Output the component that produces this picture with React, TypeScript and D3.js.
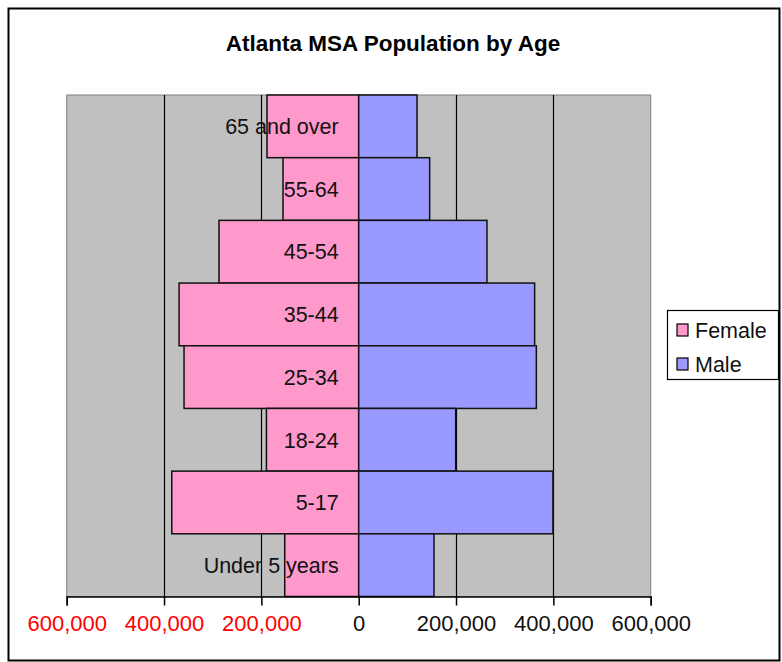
import React, { useEffect, useRef } from "react";
import * as d3 from "d3";

// age groups, top of the pyramid first
const ageGroups = ["65 and over", "55-64", "45-54", "35-44", "25-34", "18-24", "5-17", "Under 5 years"];
const female = [188400, 155500, 287000, 369100, 358900, 189600, 384100, 152000];
const male = [119800, 145800, 263600, 361500, 365000, 199300, 399100, 154700];
const tickValues = [-600000, -400000, -200000, 0, 200000, 400000, 600000];
const gridValues = [-400000, -200000, 200000, 400000];
const seriesNames = ["Female", "Male"];
const seriesColors = ["#FF99CC", "#9999FF"];

const W = 782, H = 662;
const margin = { left: 66.7, right: 131.3, top: 95, bottom: 65.5 };

function Pyramid() {
  const ref = useRef<SVGSVGElement>(null);

  useEffect(() => {
    const svg = d3.select(ref.current);
    svg.selectAll("*").remove();
    const font = "'Liberation Sans', Arial, sans-serif";

    // outer chart border
    svg.append("rect").attr("x", 8.5).attr("y", 8.5).attr("width", 771).attr("height", 652)
      .attr("fill", "white").attr("stroke", "black").attr("stroke-width", 2);

    svg.append("text").attr("x", 393).attr("y", 51).attr("text-anchor", "middle")
      .style("font-family", font).style("font-weight", "bold").style("font-size", "22.5px")
      .text("Atlanta MSA Population by Age");

    const x = d3.scaleLinear().domain([-600000, 600000]).range([margin.left, W - margin.right]);
    const y = d3.scaleBand().domain(ageGroups).range([margin.top, H - margin.bottom]).padding(0);

    const g = svg.append("g");
    g.append("rect").attr("x", x(-600000)).attr("y", margin.top)
      .attr("width", x(600000) - x(-600000)).attr("height", H - margin.bottom - margin.top)
      .attr("fill", "#C0C0C0").attr("stroke", "#808080").attr("stroke-width", 1);

    g.selectAll(".grid").data(gridValues).join("line").attr("class", "grid")
      .attr("x1", d => Math.round(x(d)) + 0.5).attr("x2", d => Math.round(x(d)) + 0.5)
      .attr("y1", margin.top).attr("y2", H - margin.bottom)
      .attr("stroke", "black").attr("stroke-width", 1.2);

    // female bars go left, male bars go right
    g.selectAll(".fbar").data(ageGroups).join("rect").attr("class", "fbar")
      .attr("x", (d, i) => x(-female[i])).attr("y", d => y(d)!)
      .attr("width", (d, i) => x(0) - x(-female[i])).attr("height", y.bandwidth())
      .attr("fill", seriesColors[0]).attr("stroke", "#111").attr("stroke-width", 1.5);
    g.selectAll(".mbar").data(ageGroups).join("rect").attr("class", "mbar")
      .attr("x", x(0)).attr("y", d => y(d)!)
      .attr("width", (d, i) => x(male[i]) - x(0)).attr("height", y.bandwidth())
      .attr("fill", seriesColors[1]).attr("stroke", "#111").attr("stroke-width", 1.5);

    g.selectAll(".cat").data(ageGroups).join("text").attr("class", "cat")
      .attr("x", x(0) - 20).attr("y", d => y(d)! + y.bandwidth() / 2).attr("dy", "0.36em")
      .attr("text-anchor", "end").style("font-family", font).style("font-size", "21.5px")
      .attr("fill", "#111").text(d => d);

    const axis = g.append("g").attr("transform", `translate(0,${H - margin.bottom})`)
      .call(d3.axisBottom(x).tickValues(tickValues).tickSize(9).tickPadding(10)
        .tickFormat(d => d3.format(",")(Math.abs(+d))));
    axis.select(".domain").attr("stroke", "black").attr("stroke-width", 1.5);
    axis.selectAll(".tick line").attr("stroke", "black").attr("stroke-width", 1.5);
    axis.selectAll<SVGTextElement, number>(".tick text")
      .style("font-family", font).style("font-size", "22px")
      .attr("fill", d => (d < 0 ? "#FF0000" : "#111"));

    // legend
    const leg = svg.append("g");
    leg.append("rect").attr("x", 667.5).attr("y", 310.5).attr("width", 111).attr("height", 69)
      .attr("fill", "white").attr("stroke", "black").attr("stroke-width", 1.2);
    seriesNames.forEach((name, i) => {
      const cy = 330 + i * 34;
      leg.append("rect").attr("x", 677).attr("y", cy - 6).attr("width", 11).attr("height", 12)
        .attr("fill", seriesColors[i]).attr("stroke", "black").attr("stroke-width", 1.2);
      leg.append("text").attr("x", 695).attr("y", cy).attr("dy", "0.36em")
        .style("font-family", font).style("font-size", "21.5px").attr("fill", "#111").text(name);
    });
  }, []);

  return <svg ref={ref} width={W} height={H} style={{ display: "block" }} />;
}

export default function App() {
  return (
    <div style={{ position: "absolute", left: 0, top: 0 }}>
      <Pyramid />
    </div>
  );
}
